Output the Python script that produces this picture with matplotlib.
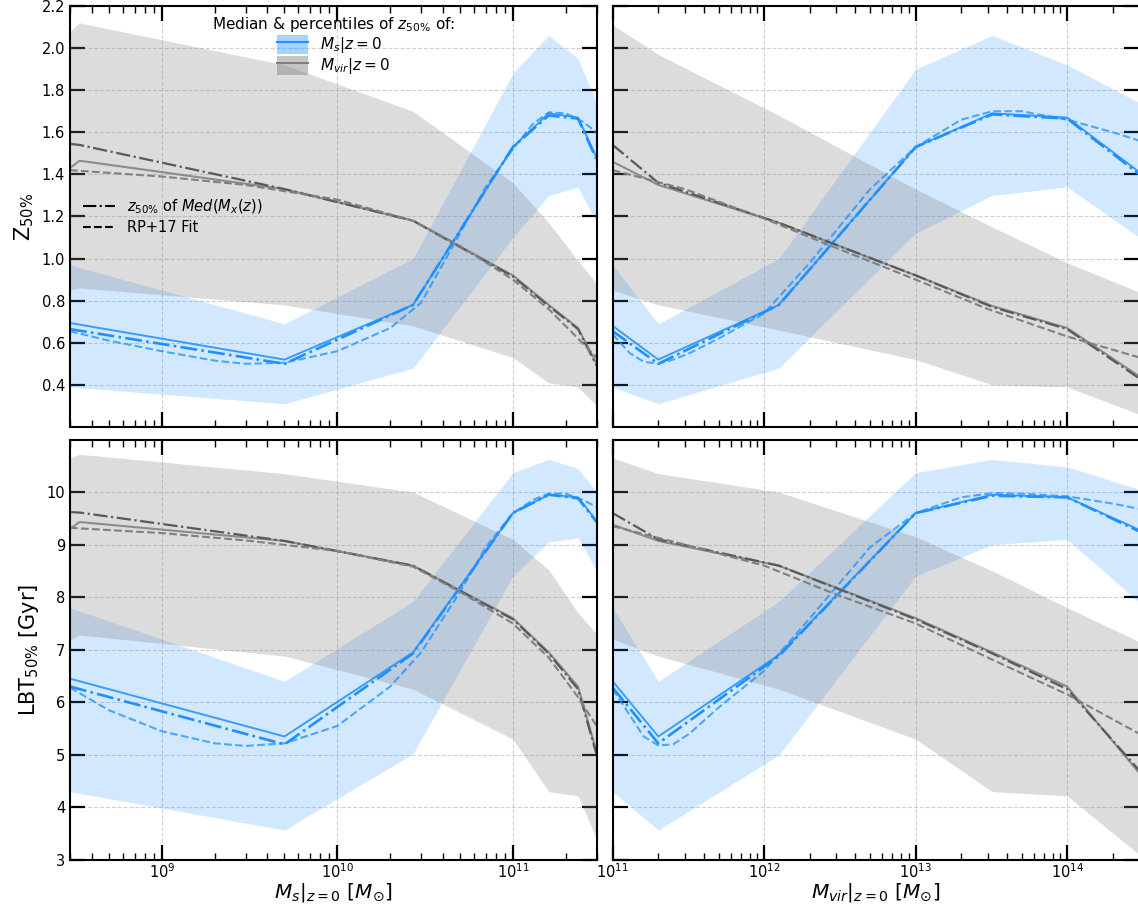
"""Half-mass redshift / lookback time vs. stellar and halo mass (2x2 panel)."""

import matplotlib

matplotlib.use("Agg")
import matplotlib.pyplot as plt
from matplotlib.lines import Line2D
from matplotlib.patches import Patch
from matplotlib.ticker import LogLocator, NullFormatter

BLUE = "dodgerblue"

# bin centres
MS_BINS = [3.0e8, 5.0e9, 2.7e10, 1.0e11, 1.6e11, 2.35e11, 3.0e11]
MS_BINS_VIR = [3.0e8, 3.4e8, 5.0e9, 2.7e10, 1.0e11, 1.6e11, 2.35e11, 3.0e11]
MVIR_BINS = [1.0e11, 2.0e11, 1.25e12, 1.0e13, 3.2e13, 1.0e14, 3.0e14]

# --- z50 vs Ms (top left) ---
Z_MS_MED = [0.694, 0.52, 0.78, 1.53, 1.69, 1.67, 1.48]
Z_MS_MEDMASS = [0.665, 0.50, 0.78, 1.53, 1.68, 1.665, 1.47]
Z_MS_LO = [0.39, 0.31, 0.48, 1.10, 1.30, 1.34, 1.17]
Z_MS_HI = [0.97, 0.69, 1.00, 1.88, 2.06, 1.95, 1.74]
Z_MSVIR_MED = [1.43, 1.465, 1.33, 1.18, 0.92, 0.78, 0.67, 0.50]
Z_MSVIR_MEDMASS = [1.545, 1.54, 1.33, 1.18, 0.915, 0.775, 0.665, 0.49]
Z_MSVIR_LO = [0.85, 0.86, 0.78, 0.68, 0.53, 0.41, 0.39, 0.30]
Z_MSVIR_HI = [2.08, 2.12, 1.92, 1.70, 1.36, 1.17, 0.99, 0.88]

FIT_MS_X = [3e8, 5e8, 1e9, 2e9, 3e9, 5e9, 1e10, 2e10, 3e10, 5e10, 7e10,
            1e11, 1.3e11, 1.6e11, 2e11, 2.5e11, 3e11]
Z_MS_FIT = [0.655, 0.61, 0.56, 0.515, 0.50, 0.505, 0.56, 0.67, 0.79, 1.12,
            1.34, 1.52, 1.64, 1.695, 1.69, 1.65, 1.60]
FIT_MSVIR_X = [3e8, 1e9, 3e9, 1e10, 2.7e10, 5e10, 1e11, 1.6e11, 2.35e11, 3e11]
Z_MSVIR_FIT = [1.42, 1.39, 1.35, 1.28, 1.18, 1.06, 0.90, 0.76, 0.62, 0.53]

# --- z50 vs Mvir (top right) ---
Z_MV_MED = [0.68, 0.52, 0.78, 1.53, 1.69, 1.67, 1.41]
Z_MV_MEDMASS = [0.655, 0.50, 0.78, 1.53, 1.685, 1.665, 1.40]
Z_MV_LO = [0.39, 0.31, 0.48, 1.12, 1.30, 1.34, 1.10]
Z_MV_HI = [0.97, 0.69, 1.00, 1.90, 2.06, 1.92, 1.74]
Z_MVVIR_MED = [1.46, 1.35, 1.17, 0.92, 0.775, 0.67, 0.44]
Z_MVVIR_MEDMASS = [1.54, 1.36, 1.17, 0.92, 0.77, 0.665, 0.43]
Z_MVVIR_LO = [0.85, 0.78, 0.66, 0.52, 0.40, 0.39, 0.26]
Z_MVVIR_HI = [2.11, 1.97, 1.68, 1.33, 1.15, 0.98, 0.84]

FIT_MV_X = [1e11, 1.3e11, 1.6e11, 2e11, 2.5e11, 3.2e11, 5e11, 1e12, 2e12,
            5e12, 1e13, 2e13, 3.2e13, 5e13, 1e14, 2e14, 3e14]
Z_MV_FIT = [0.64, 0.55, 0.51, 0.50, 0.52, 0.55, 0.62, 0.74, 0.98, 1.33,
            1.53, 1.66, 1.70, 1.70, 1.66, 1.60, 1.56]
FIT_MVVIR_X = [1e11, 3e11, 1e12, 3e12, 1e13, 3e13, 1e14, 3e14]
Z_MVVIR_FIT = [1.42, 1.33, 1.19, 1.05, 0.90, 0.76, 0.63, 0.53]

# --- LBT50 vs Ms (bottom left) ---
T_MS_MED = [6.45, 5.35, 6.95, 9.6, 9.95, 9.9, 9.45]
T_MS_MEDMASS = [6.3, 5.2, 6.93, 9.6, 9.95, 9.88, 9.43]
T_MS_LO = [4.3, 3.57, 5.02, 8.4, 9.05, 9.13, 8.5]
T_MS_HI = [7.8, 6.4, 7.92, 10.37, 10.62, 10.45, 10.0]
T_MSVIR_MED = [9.3, 9.43, 9.07, 8.6, 7.6, 6.95, 6.3, 5.05]
T_MSVIR_MEDMASS = [9.62, 9.61, 9.07, 8.6, 7.58, 6.93, 6.25, 5.0]
T_MSVIR_LO = [7.18, 7.28, 6.88, 6.25, 5.3, 4.3, 4.22, 3.4]
T_MSVIR_HI = [10.65, 10.72, 10.35, 10.0, 9.1, 8.52, 7.7, 7.3]

T_MS_FIT = [6.28, 5.85, 5.45, 5.22, 5.17, 5.22, 5.55, 6.3, 6.95, 8.1, 8.95,
            9.6, 9.85, 9.97, 9.97, 9.85, 9.72]
T_MSVIR_FIT = [9.32, 9.22, 9.08, 8.88, 8.58, 8.1, 7.5, 6.85, 6.1, 5.55]

# --- LBT50 vs Mvir (bottom right) ---
T_MV_MED = [6.4, 5.35, 6.9, 9.6, 9.95, 9.9, 9.28]
T_MV_MEDMASS = [6.28, 5.22, 6.88, 9.6, 9.93, 9.9, 9.25]
T_MV_LO = [4.3, 3.57, 5.0, 8.4, 9.0, 9.1, 7.9]
T_MV_HI = [7.8, 6.4, 7.92, 10.37, 10.62, 10.48, 10.05]
T_MVVIR_MED = [9.38, 9.07, 8.6, 7.6, 6.95, 6.3, 4.65]
T_MVVIR_MEDMASS = [9.6, 9.1, 8.6, 7.58, 6.93, 6.25, 4.7]
T_MVVIR_LO = [7.2, 6.88, 6.25, 5.3, 4.3, 4.22, 3.1]
T_MVVIR_HI = [10.65, 10.35, 10.0, 9.15, 8.5, 7.8, 7.15]

T_MV_FIT = [6.25, 5.75, 5.35, 5.18, 5.2, 5.4, 5.9, 6.6, 7.6, 8.95, 9.6,
            9.9, 9.98, 9.97, 9.92, 9.78, 9.68]
T_MVVIR_FIT = [9.35, 9.0, 8.6, 8.05, 7.5, 6.85, 6.15, 5.4]

Z_TICKS = [0.4, 0.6, 0.8, 1.0, 1.2, 1.4, 1.6, 1.8, 2.0, 2.2]
T_TICKS = [3, 4, 5, 6, 7, 8, 9, 10]


def style_axis(ax):
    ax.set_xscale("log")
    ax.xaxis.set_major_locator(LogLocator(base=10, numticks=20))
    ax.xaxis.set_minor_locator(LogLocator(base=10, subs=range(2, 10), numticks=20))
    ax.xaxis.set_minor_formatter(NullFormatter())
    ax.tick_params(which="both", direction="in", top=True, right=True,
                   labelsize=10.5)
    ax.tick_params(axis="x", which="both", pad=2)
    ax.tick_params(which="major", length=11, width=1.6)
    ax.tick_params(which="minor", length=5, width=1.0)
    for spine in ax.spines.values():
        spine.set_linewidth(1.5)
    ax.grid(True, which="major", ls="--", color="0.82", lw=0.8)
    ax.set_axisbelow(True)


def draw_panel(ax, xb, med, medmass, lo, hi, xg, gmed, gmedmass, glo, ghi,
               fx, fit, gfx, gfit):
    ax.fill_between(xb, lo, hi, color=BLUE, alpha=0.2, lw=0)
    ax.fill_between(xg, glo, ghi, color="gray", alpha=0.27, lw=0)
    ax.plot(xb, med, color=BLUE, lw=1.4, alpha=0.85)
    ax.plot(xb, medmass, color=BLUE, lw=1.9, ls="-.")
    ax.plot(fx, fit, color=BLUE, lw=1.5, ls="--", alpha=0.75)
    ax.plot(xg, gmed, color="0.55", lw=1.5)
    ax.plot(xg, gmedmass, color="0.35", lw=1.6, ls="-.")
    ax.plot(gfx, gfit, color="0.5", lw=1.5, ls="--")


fig = plt.figure(figsize=(11.38, 9.09), dpi=100)
ax_tl = fig.add_axes([0.0615, 0.5303, 0.4628, 0.4631])
ax_tr = fig.add_axes([0.5384, 0.5303, 0.4629, 0.4631])
ax_bl = fig.add_axes([0.0615, 0.0539, 0.4628, 0.4626])
ax_br = fig.add_axes([0.5384, 0.0539, 0.4629, 0.4626])

for ax in (ax_tl, ax_tr, ax_bl, ax_br):
    style_axis(ax)

draw_panel(ax_tl, MS_BINS, Z_MS_MED, Z_MS_MEDMASS, Z_MS_LO, Z_MS_HI,
           MS_BINS_VIR, Z_MSVIR_MED, Z_MSVIR_MEDMASS, Z_MSVIR_LO, Z_MSVIR_HI,
           FIT_MS_X, Z_MS_FIT, FIT_MSVIR_X, Z_MSVIR_FIT)
draw_panel(ax_tr, MVIR_BINS, Z_MV_MED, Z_MV_MEDMASS, Z_MV_LO, Z_MV_HI,
           MVIR_BINS, Z_MVVIR_MED, Z_MVVIR_MEDMASS, Z_MVVIR_LO, Z_MVVIR_HI,
           FIT_MV_X, Z_MV_FIT, FIT_MVVIR_X, Z_MVVIR_FIT)
draw_panel(ax_bl, MS_BINS, T_MS_MED, T_MS_MEDMASS, T_MS_LO, T_MS_HI,
           MS_BINS_VIR, T_MSVIR_MED, T_MSVIR_MEDMASS, T_MSVIR_LO, T_MSVIR_HI,
           FIT_MS_X, T_MS_FIT, FIT_MSVIR_X, T_MSVIR_FIT)
draw_panel(ax_br, MVIR_BINS, T_MV_MED, T_MV_MEDMASS, T_MV_LO, T_MV_HI,
           MVIR_BINS, T_MVVIR_MED, T_MVVIR_MEDMASS, T_MVVIR_LO, T_MVVIR_HI,
           FIT_MV_X, T_MV_FIT, FIT_MVVIR_X, T_MVVIR_FIT)

for ax in (ax_tl, ax_bl):
    ax.set_xlim(3e8, 3e11)
for ax in (ax_tr, ax_br):
    ax.set_xlim(1e11, 3e14)
    ax.tick_params(labelleft=False)
for ax in (ax_tl, ax_tr):
    ax.set_ylim(0.2, 2.2)
    ax.set_yticks(Z_TICKS)
    ax.tick_params(labelbottom=False)
for ax in (ax_bl, ax_br):
    ax.set_ylim(3, 11)
    ax.set_yticks(T_TICKS)

ax_tl.set_ylabel("Z$_{50\\%}$", fontsize=15)
ax_bl.set_ylabel("LBT$_{50\\%}$ [Gyr]", fontsize=15)
ax_bl.set_xlabel(r"$M_s|_{z=0}\ [M_{\odot}]$", fontsize=14.5, labelpad=0)
ax_br.set_xlabel(r"$M_{vir}|_{z=0}\ [M_{\odot}]$", fontsize=14.5, labelpad=0)

sample_handles = [
    (Patch(facecolor=BLUE, alpha=0.4, lw=0), Line2D([], [], color=BLUE, lw=1.5)),
    (Patch(facecolor="gray", alpha=0.45, lw=0), Line2D([], [], color="0.5", lw=1.5)),
]
leg1 = ax_tl.legend(sample_handles, [r"$M_s|z=0$", r"$M_{vir}|z=0$"],
                    title=r"Median & percentiles of $z_{50\%}$ of:",
                    loc="upper center", bbox_to_anchor=(0.5, 1.0),
                    frameon=False, fontsize=11, title_fontsize=11,
                    handlelength=2.0, handleheight=1.5, labelspacing=0.05,
                    borderaxespad=0.2)
ax_tl.add_artist(leg1)

style_handles = [
    Line2D([], [], color="k", lw=1.5, ls="-."),
    Line2D([], [], color="k", lw=1.5, ls="--"),
]
ax_tl.legend(style_handles, [r"$z_{50\%}$ of $Med(M_x(z))$", "RP+17 Fit"],
             loc="center left", bbox_to_anchor=(0.0, 0.5), frameon=False,
             fontsize=10.5, handlelength=2.2, labelspacing=0.3)

fig.savefig("out.png", dpi=100)
